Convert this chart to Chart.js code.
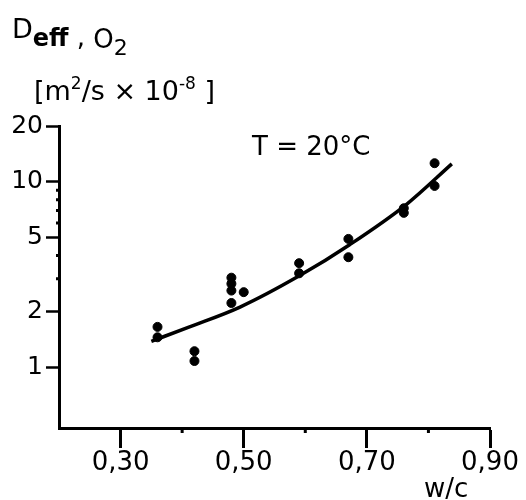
<!DOCTYPE html>
<html>
<head>
<meta charset="utf-8">
<script src="https://cdn.jsdelivr.net/npm/chart.js@4"></script>
<style>
  html, body { margin: 0; padding: 0; background: #fff; }
  canvas { display: block; }
</style>
</head>
<body>
<canvas id="chart" width="526" height="500"></canvas>
<script>
// measured points, w/c vs Deff (m2/s x 1e-8)
const wcPoints   = [0.36, 0.36, 0.42, 0.42, 0.48, 0.48, 0.48, 0.48, 0.50, 0.59, 0.59, 0.67, 0.67, 0.76, 0.76, 0.81, 0.81];
const deffPoints = [1.65, 1.45, 1.22, 1.08, 3.04, 2.82, 2.59, 2.22, 2.54, 3.64, 3.21, 4.92, 3.92, 7.2, 6.8, 12.6, 9.5];

// fitted curve
const wcFit   = [0.350, 0.412, 0.494, 0.591, 0.672, 0.765, 0.838];
const deffFit = [1.38, 1.65, 2.11, 3.12, 4.58, 7.59, 12.5];

// axis ticks
const xTicks = [0.30, 0.50, 0.70, 0.90];
const xMinorTicks = [0.40, 0.60, 0.80];
const yTicks = [1, 2, 5, 10, 20];
const yMinorTicks = [3, 4, 6, 7, 8, 9];

const FONT = '"DejaVu Sans", sans-serif';

// draws a run of [text, size, dy, bold] pieces one after another
function drawRun(ctx, x, y, parts) {
    parts.forEach(p => {
        ctx.font = (p[3] ? 'bold ' : '') + p[1] + 'px ' + FONT;
        ctx.fillText(p[0], x, y + p[2]);
        x += ctx.measureText(p[0]).width;
    });
}

// small minor tick marks on both axes
const minorTicks = {
    id: 'minorTicks',
    afterDraw(chart) {
        const ctx = chart.ctx;
        const xs = chart.scales.x, ys = chart.scales.y;
        ctx.save();
        ctx.strokeStyle = '#000';
        ctx.lineWidth = 3;
        ctx.beginPath();
        xMinorTicks.forEach(v => {
            const px = xs.getPixelForValue(v);
            ctx.moveTo(px, xs.top);
            ctx.lineTo(px, xs.top + 5);
        });
        yMinorTicks.forEach(v => {
            const py = ys.getPixelForValue(v);
            ctx.moveTo(ys.right - 3, py);
            ctx.lineTo(ys.right + 2, py);
        });
        ctx.stroke();
        ctx.restore();
    }
};

// text labels drawn around the plot (title, units, temperature, x title)
const annotations = {
    id: 'annotations',
    afterDraw(chart) {
        const ctx = chart.ctx;
        ctx.save();
        ctx.fillStyle = '#000';
        ctx.textBaseline = 'alphabetic';
        ctx.textAlign = 'left';

        // D_eff, O_2
        drawRun(ctx, 12, 38, [['D', 27, 0], ['eff', 24, 8, true], [' , ', 26, 8], ['O', 26, 10], ['2', 22, 17]]);

        // units
        drawRun(ctx, 34, 100, [['[m', 27, 0], ['2', 17, -11], ['/s × 10', 27, 0], ['-8', 17, -11], [' ]', 27, 0]]);

        // temperature
        ctx.font = '26px ' + FONT;
        ctx.fillText('T = 20°C', 252, 155);

        // x title
        ctx.font = '26px ' + FONT;
        ctx.fillText('w/c', 424, 497);

        ctx.restore();
    }
};

new Chart(document.getElementById('chart'), {
    type: 'scatter',
    data: {
        datasets: [
            {
                label: 'measured',
                data: wcPoints.map((x, i) => ({ x: x, y: deffPoints[i] })),
                backgroundColor: '#000',
                borderColor: '#000',
                pointRadius: 4.5,
                pointHoverRadius: 4.5,
                showLine: false
            },
            {
                label: 'fit',
                data: wcFit.map((x, i) => ({ x: x, y: deffFit[i] })),
                borderColor: '#000',
                borderWidth: 3.5,
                pointRadius: 0,
                showLine: true,
                tension: 0.4,
                cubicInterpolationMode: 'monotone'
            }
        ]
    },
    options: {
        responsive: false,
        animation: false,
        layout: { padding: { top: 126, right: 36, left: 0, bottom: 0 } },
        plugins: {
            legend: { display: false },
            tooltip: { enabled: false }
        },
        scales: {
            x: {
                type: 'linear',
                min: 0.20,
                max: 0.90,
                afterBuildTicks: (scale) => { scale.ticks = xTicks.map(v => ({ value: v })); },
                afterFit: (scale) => { scale.height = 72; },
                ticks: {
                    color: '#000',
                    padding: 0,
                    maxRotation: 0,
                    font: { family: FONT, size: 26 },
                    callback: (v) => v.toFixed(2).replace('.', ',')
                },
                grid: {
                    drawOnChartArea: false,
                    tickLength: 20,
                    tickWidth: 3,
                    tickColor: '#000'
                },
                border: { color: '#000', width: 3 }
            },
            y: {
                type: 'logarithmic',
                min: 0.47,
                max: 20,
                afterBuildTicks: (scale) => { scale.ticks = yTicks.map(v => ({ value: v })); },
                afterFit: (scale) => { scale.width = 59; },
                ticks: {
                    color: '#000',
                    padding: 3,
                    font: { family: FONT, size: 25 },
                    callback: (v) => String(v)
                },
                grid: {
                    drawOnChartArea: false,
                    tickLength: 13,
                    tickWidth: 2.5,
                    tickColor: '#000'
                },
                border: { color: '#000', width: 3 }
            }
        }
    },
    plugins: [minorTicks, annotations]
});
</script>
</body>
</html>
